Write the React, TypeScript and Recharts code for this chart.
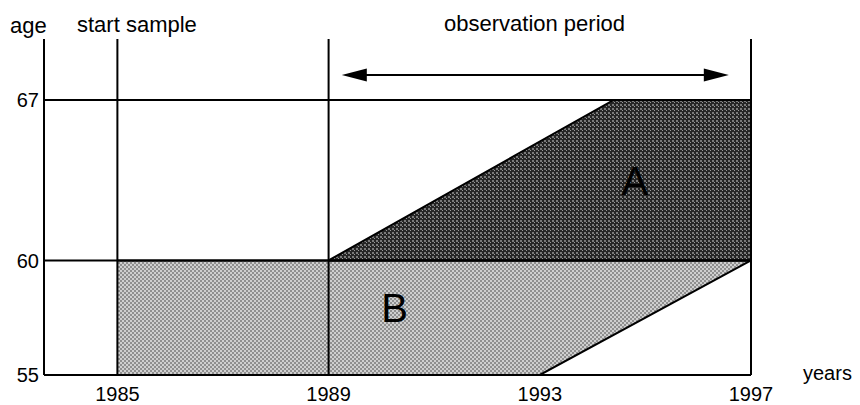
import React from 'react';
import { ComposedChart, Area, XAxis, YAxis, ReferenceLine, ReferenceDot } from 'recharts';

// years (x) where the shapes change
const years = [1985, 1989, 1993, 1994.4, 1997];
// region B (light): age range [low, high] per year
const bLow = [55, 55, 55, null, 60];
const bHigh = [60, 60, 60, null, 60];
// region A (dark): age range [low, high] per year
const aLow = [null, 60, null, 60, 60];
const aHigh = [null, 60, null, 67, 67];

const xTicks = [1985, 1989, 1993, 1997];
const yTicks = [55, 60, 67];
const verticalYears = [1985, 1989, 1997];
const horizontalAges = [60, 67];
const observationStart = 1989;
const observationEnd = 1997;

const data = years.map((y, i) => ({
  year: y,
  B: bLow[i] == null ? null : [bLow[i], bHigh[i]],
  A: aLow[i] == null ? null : [aLow[i], aHigh[i]],
}));

const FONT = '"Liberation Sans", Arial, Helvetica, sans-serif';

const Arrow = (props: any) => {
  const { x1, y1, x2, y2 } = props;
  const L = 25;
  const H = 6.5;
  return (
    <g>
      <line x1={x1 + L - 2} y1={y1} x2={x2 - L + 2} y2={y2} stroke="#000" strokeWidth={2} />
      <polygon points={`${x1},${y1} ${x1 + L},${y1 - H} ${x1 + L},${y1 + H}`} fill="#000" />
      <polygon points={`${x2},${y2} ${x2 - L},${y2 - H} ${x2 - L},${y2 + H}`} fill="#000" />
    </g>
  );
};

export default function App() {
  return (
    <div style={{ position: 'absolute', left: 0, top: 0, width: 860, height: 405, background: '#fff' }}>
      <ComposedChart
        width={860}
        height={405}
        data={data}
        margin={{ top: 39, right: 109, bottom: 0, left: 0 }}
        style={{ fontFamily: FONT }}
      >
        <defs>
          <pattern id="patB" width={4} height={4} patternUnits="userSpaceOnUse">
            <rect x={0} y={0} width={4} height={4} fill="#cfcfcf" />
            <rect x={0} y={0} width={2} height={2} fill="#8f8f8f" />
            <rect x={2} y={2} width={2} height={2} fill="#8f8f8f" />
          </pattern>
          <pattern id="patA" width={4} height={4} patternUnits="userSpaceOnUse">
            <rect x={0} y={0} width={4} height={4} fill="#262626" />
            <rect x={0} y={0} width={2} height={2} fill="#7a7a7a" />
            <rect x={2} y={2} width={1} height={1} fill="#9a9a9a" />
          </pattern>
        </defs>
        <XAxis
          dataKey="year"
          type="number"
          domain={[1983.61, 1997]}
          ticks={xTicks}
          interval={0}
          height={30}
          tickLine={false}
          tickSize={6}
          tickMargin={6}
          axisLine={{ stroke: '#000', strokeWidth: 2 }}
          tick={{ fill: '#000', fontSize: 20, fontFamily: FONT }}
        />
        <YAxis
          type="number"
          domain={[55, 69.66]}
          ticks={yTicks}
          interval={0}
          width={44}
          tickLine={false}
          tickSize={0}
          tickMargin={5}
          axisLine={{ stroke: '#000', strokeWidth: 2 }}
          tick={{ fill: '#000', fontSize: 20, fontFamily: FONT }}
        />
        <Area
          dataKey="B"
          type="linear"
          connectNulls
          fill="url(#patB)"
          fillOpacity={1}
          stroke="#000"
          strokeWidth={2}
          isAnimationActive={false}
          dot={false}
          activeDot={false}
        />
        <Area
          dataKey="A"
          type="linear"
          connectNulls
          fill="url(#patA)"
          fillOpacity={1}
          stroke="#000"
          strokeWidth={2}
          isAnimationActive={false}
          dot={false}
          activeDot={false}
        />
        {horizontalAges.map((a) => (
          <ReferenceLine key={'h' + a} y={a} stroke="#000" strokeWidth={2} />
        ))}
        {verticalYears.map((y) => (
          <ReferenceLine key={'v' + y} x={y} stroke="#000" strokeWidth={2} />
        ))}
        <ReferenceLine
          segment={[
            { x: observationStart + 0.25, y: 68.09 },
            { x: observationEnd - 0.42, y: 68.09 },
          ]}
          shape={Arrow}
        />
        <ReferenceDot
          x={1994.8}
          y={63.49}
          r={0}
          fill="none"
          stroke="none"
          label={{ value: 'A', position: 'center', fontSize: 40, fill: '#000', fontFamily: FONT }}
        />
        <ReferenceDot
          x={1990.25}
          y={57.95}
          r={0}
          fill="none"
          stroke="none"
          label={{ value: 'B', position: 'center', fontSize: 40, fill: '#000', fontFamily: FONT }}
        />
        <text x={10} y={33} fontSize={22} fill="#000" fontFamily={FONT}>age</text>
        <text x={77} y={32} fontSize={22} fill="#000" fontFamily={FONT}>start sample</text>
        <text x={444} y={31} fontSize={22} fill="#000" fontFamily={FONT}>observation period</text>
        <text x={803} y={380} fontSize={20} fill="#000" fontFamily={FONT}>years</text>
      </ComposedChart>
    </div>
  );
}
